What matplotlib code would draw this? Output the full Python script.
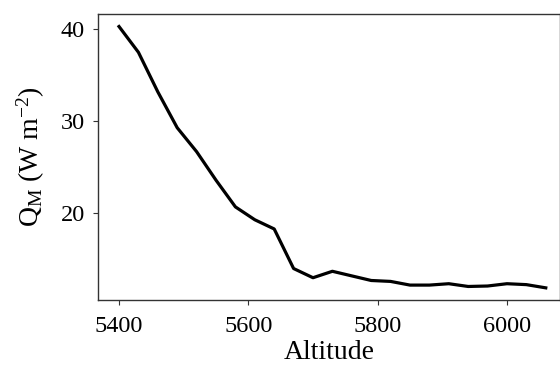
import matplotlib
matplotlib.use('Agg')
import matplotlib.pyplot as plt

plt.rcParams['font.family'] = ['Liberation Serif', 'DejaVu Serif']
plt.rcParams['mathtext.fontset'] = 'custom'
plt.rcParams['mathtext.rm'] = 'Liberation Serif'
plt.rcParams['mathtext.it'] = 'Liberation Serif:italic'

altitude = [5400, 5430, 5460, 5490, 5520, 5550, 5580, 5610, 5640, 5670,
            5700, 5730, 5760, 5790, 5820, 5850, 5880, 5910, 5940, 5970,
            6000, 6030, 6060]
qm = [40.3, 37.5, 33.2, 29.3, 26.7, 23.6, 20.7, 19.3, 18.3, 14.0,
      13.0, 13.7, 13.2, 12.7, 12.6, 12.2, 12.2, 12.35, 12.05, 12.1,
      12.35, 12.25, 11.9]

fig = plt.figure(figsize=(5.6, 3.65), dpi=100)
ax = fig.add_axes([98/560, 1 - 300/365, (560 - 98)/560, (300 - 14)/365])
ax.plot(altitude, qm, color='black', lw=2.3)

ax.set_xlim(5367.5, 6082)
ax.set_ylim(10.58, 41.66)
ax.set_xticks([5400, 5600, 5800, 6000])
ax.set_yticks([20, 30, 40])
ax.tick_params(labelsize=17.5, color='#333333')
ax.tick_params(axis='x', pad=8)
ax.tick_params(axis='y', pad=6)
for s in ax.spines.values():
    s.set_color('#333333')
    s.set_linewidth(1.0)

ax.set_xlabel('Altitude', fontsize=20, labelpad=2)
ax.set_ylabel(r'Q$_{\mathrm{M}}$ (W m$^{-2}$)', fontsize=20, labelpad=10)

fig.savefig('out.png', dpi=100)
